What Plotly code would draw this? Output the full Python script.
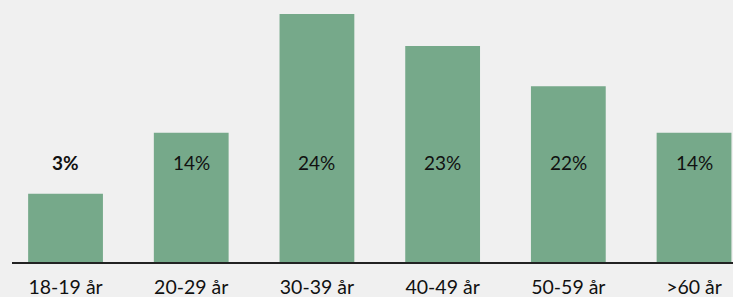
import plotly.graph_objects as go

categories = ["18-19 år", "20-29 år", "30-39 år", "40-49 år", "50-59 år", ">60 år"]
bar_values = [6.6, 12.5, 24.0, 20.9, 17.0, 12.5]
bar_labels = ["<b>3%</b>", "14%", "24%", "23%", "22%", "14%"]
label_level = 9.6

BG = "#f0f0f0"
BAR = "#76a98a"
FONT = "Lato, 'Open Sans', sans-serif"

fig = go.Figure()
fig.add_trace(go.Bar(
    x=categories, y=bar_values, marker=dict(color=BAR, line=dict(width=0)),
    hoverinfo="skip",
))
for c, t in zip(categories, bar_labels):
    fig.add_annotation(x=c, y=label_level, text=t, showarrow=False,
                       font=dict(family=FONT, size=19, color="#111111"),
                       xanchor="center", yanchor="middle")

fig.update_layout(
    width=733, height=297,
    margin=dict(l=12, r=0, t=0, b=35),
    paper_bgcolor=BG, plot_bgcolor=BG,
    bargap=0.405, showlegend=False,
    font=dict(family=FONT, size=19, color="#111111"),
)
fig.update_xaxes(
    range=[-0.4259, 5.31], showgrid=False, zeroline=False,
    showline=True, linecolor="#222222", linewidth=2,
    ticks="outside", ticklen=7, tickcolor=BG, automargin=False,
    tickfont=dict(family=FONT, size=19.5, color="#111111"),
)
fig.update_yaxes(range=[0, 25.35], visible=False)

fig.write_html(
    "out.html",
    config={"displayModeBar": False, "staticPlot": True},
    post_script="document.body.style.margin='0';document.body.style.overflow='hidden';document.body.style.background='#f0f0f0';",
)
